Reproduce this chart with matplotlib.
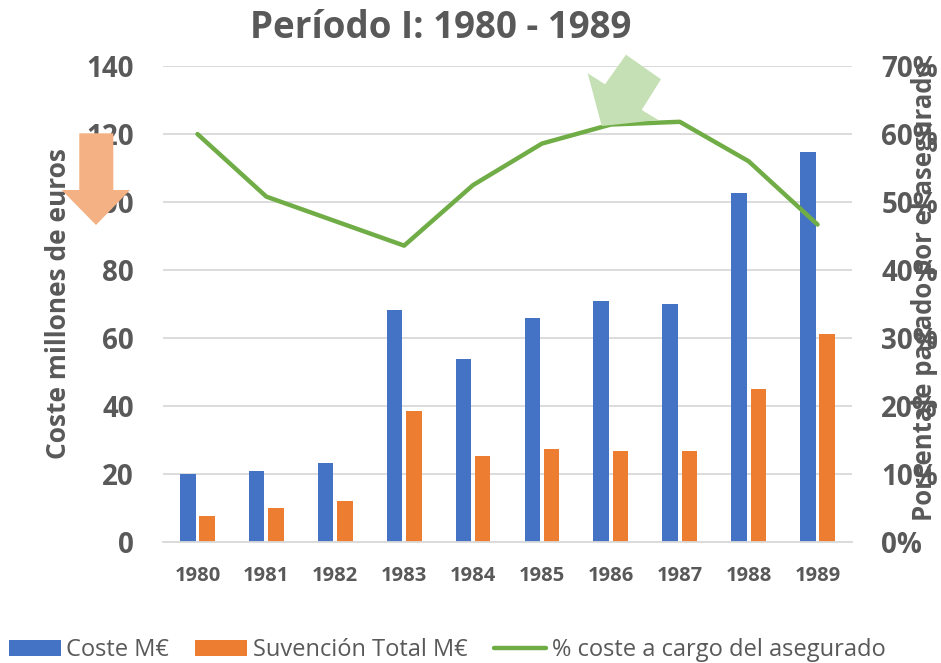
import numpy as np
import matplotlib.pyplot as plt
from matplotlib.patches import Polygon
from matplotlib.ticker import PercentFormatter

# Data
years = ['1980', '1981', '1982', '1983', '1984', '1985', '1986', '1987', '1988', '1989']
coste = [20.0, 20.9, 23.2, 68.3, 53.9, 65.9, 71.0, 70.0, 102.7, 114.7]
subvencion = [7.8, 10.1, 12.1, 38.5, 25.5, 27.4, 26.9, 26.8, 45.1, 61.2]
pct_asegurado = [60.0, 50.8, 47.2, 43.6, 52.5, 58.6, 61.4, 61.8, 56.0, 46.7]

GRAY = '#595959'
W, H = 941, 663

plt.rcParams['font.family'] = ['Open Sans', 'DejaVu Sans']

fig = plt.figure(figsize=(W / 100, H / 100), dpi=100)
ax = fig.add_axes([163 / W, 1 - 542.3 / H, (852 - 163) / W, (542.3 - 66) / H])
ax2 = ax.twinx()

x = np.arange(len(years))
bw = 0.225
b1 = ax.bar(x - 0.14, coste, bw, color='#4472C4', label='Coste M€', zorder=2)
b2 = ax.bar(x + 0.14, subvencion, bw, color='#ED7D31', label='Suvención Total M€', zorder=2)
ln, = ax2.plot(x, pct_asegurado, color='#70AD47', lw=3.2, solid_capstyle='round',
               label='% coste a cargo del asegurado')

ax.set_xlim(-0.5, len(years) - 0.5)
ax.set_ylim(0, 140)
ax.set_yticks(range(0, 141, 20))
ax2.set_ylim(0, 70)
ax2.set_yticks(range(0, 71, 10))
ax2.yaxis.set_major_formatter(PercentFormatter(decimals=0))

ax.grid(axis='y', color='#D9D9D9', lw=1.3, zorder=0)
ax.set_axisbelow(True)
for a in (ax, ax2):
    for s in a.spines.values():
        s.set_visible(False)
    a.tick_params(length=0, colors=GRAY)
ax.spines['bottom'].set_visible(True)
ax.spines['bottom'].set_color('#D9D9D9')
ax.spines['bottom'].set_linewidth(1.3)

ax.set_xticks(x)
ax.set_xticklabels(years, fontsize=14.5, fontweight='bold', color=GRAY)
ax.tick_params(axis='x', pad=17)
for lab in ax.get_yticklabels() + ax2.get_yticklabels():
    lab.set_fontsize(20)
    lab.set_fontweight('bold')
    lab.set_color(GRAY)
ax.tick_params(axis='y', pad=21)
ax2.tick_params(axis='y', pad=21)

fig.text(59 / W, 1 - 304 / H, 'Coste millones de euros', rotation=90, ha='center', va='center',
         fontsize=19, fontweight='bold', color=GRAY)
fig.text(925 / W, 1 - 291 / H, 'Porcentaje pagado por el asegurado', rotation=90, ha='center',
         va='center', fontsize=18.5, fontweight='bold', color=GRAY)

fig.text(441 / W, 1 - 28 / H, 'Período I: 1980 - 1989', ha='center', va='center',
         fontsize=26.5, fontweight='bold', color=GRAY)

fig.legend(handles=[b1, b2, ln], loc='center', bbox_to_anchor=(447 / W, 1 - 650 / H),
           ncol=3, frameon=False, fontsize=17, handlelength=2.2, handleheight=0.65,
           columnspacing=1.1, handletextpad=0.25, labelcolor=GRAY,
           borderpad=0, borderaxespad=0)


def fig_poly(pts, color):
    verts = [(px / W, 1 - py / H) for px, py in pts]
    fig.patches.append(Polygon(verts, closed=True, facecolor=color, edgecolor='none',
                               transform=fig.transFigure, figure=fig, zorder=5))


# orange down arrow next to the left axis
fig_poly([(79.3, 133.3), (113.3, 133.3), (113.3, 190), (130, 190), (96, 225),
          (61.7, 190), (79.3, 190)], '#F4B183')
# green arrow pointing to the peak
fig_poly([(587.7, 73.3), (605, 84.3), (626, 54.7), (661, 79.3), (641.7, 110),
          (658.3, 120), (601.7, 126)], '#C5E0B4')

fig.savefig('out.png', dpi=100)
